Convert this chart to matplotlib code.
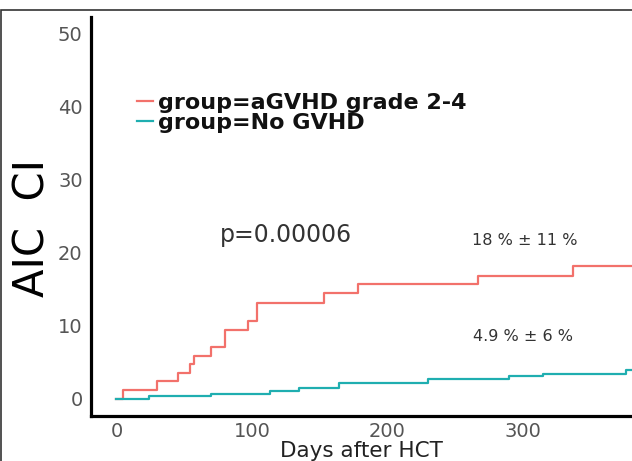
import matplotlib
matplotlib.use("Agg")
import matplotlib.pyplot as plt
from matplotlib.lines import Line2D
from matplotlib.patches import Rectangle

# ---- data ----
red_days = [0, 5, 30, 45.5, 54, 57, 70, 80, 97, 104, 153, 178.5, 267, 337, 385]
red_vals = [0, 1.2, 2.4, 3.6, 4.8, 5.9, 7.1, 9.5, 10.7, 13.2, 14.5, 15.8, 16.9, 18.2, 18.2]
teal_days = [0, 24, 70, 113, 135, 164, 230, 290, 315, 376, 385]
teal_vals = [0, 0.35, 0.65, 1.1, 1.55, 2.25, 2.8, 3.1, 3.45, 3.95, 3.95]
legend_labels = ["group=aGVHD grade 2-4", "group=No GVHD"]
x_ticks = [0, 100, 200, 300]
y_ticks = [0, 10, 20, 30, 40, 50]
p_text = "p=0.00006"
red_note = "18 % \u00b1 11 %"
teal_note = "4.9 % \u00b1 6 %"

RED = "#F2716B"
TEAL = "#1FAEB0"

plt.rcParams['font.family'] = ['DejaVu Sans']
fig = plt.figure(figsize=(6.32, 4.61), dpi=100)
ax = fig.add_axes([91/632, 45/461, 1 - 91/632, (416-17)/461])

ax.step(red_days, red_vals, where='post', color=RED, lw=1.6)
ax.step(teal_days, teal_vals, where='post', color=TEAL, lw=1.6)

ax.set_xlim(-18.8, 380.4)
ax.set_ylim(-2.33, 52.3)
ax.set_xticks(x_ticks)
ax.set_yticks(y_ticks)
ax.tick_params(length=0, labelsize=14, labelcolor="#555555")
ax.tick_params(axis='x', pad=4.5)
ax.tick_params(axis='y', pad=6)
for s in ['top', 'right']:
    ax.spines[s].set_visible(False)
for s in ['left', 'bottom']:
    ax.spines[s].set_linewidth(2.3)
    ax.spines[s].set_color("black")

ax.set_xlabel("Days after HCT", fontsize=15.5, color="#222222", labelpad=0)
ax.set_ylabel("AIC  CI", fontsize=30, color="black")
ax.yaxis.set_label_coords(-0.07, 0.47)

handles = [Line2D([0], [0], color=RED, lw=1.6), Line2D([0], [0], color=TEAL, lw=1.6)]
leg = ax.legend(handles, legend_labels, loc='upper left', bbox_to_anchor=(0.085, 0.81),
                frameon=False, prop={'weight': 'bold', 'size': 16},
                labelspacing=0.0, handlelength=0.7, handletextpad=0.25,
                borderaxespad=0, borderpad=0)
for t in leg.get_texts():
    t.set_color("#111111")

ax.text(76, 22.5, p_text, fontsize=17, color="#333333", ha='left', va='center')
ax.text(301.5, 21.7, red_note, fontsize=11.5, color="#333333", ha='center', va='center')
ax.text(300, 8.6, teal_note, fontsize=11.5, color="#333333", ha='center', va='center')

# outer frame of the picture
fig.patches.append(Rectangle((1/632, -0.2), 1.2, 1.2 - 10/461, transform=fig.transFigure,
                             fill=False, edgecolor="#333333", lw=1.2))

fig.savefig("out.png", dpi=100)
